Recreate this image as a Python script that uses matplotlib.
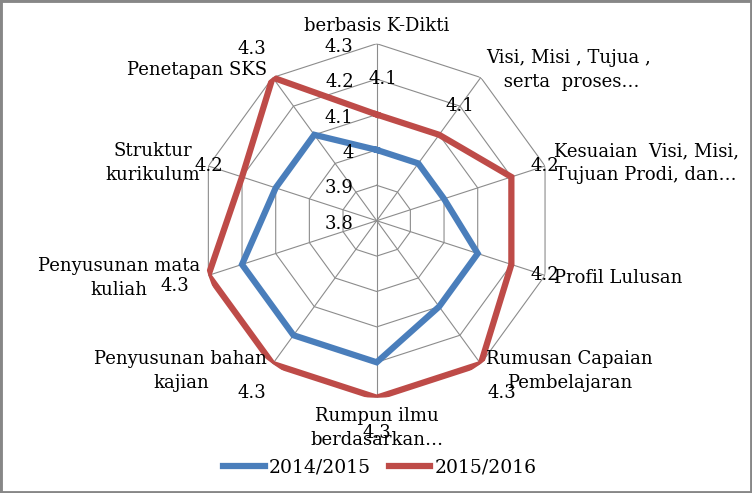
import numpy as np
import matplotlib
matplotlib.use("Agg")
import matplotlib.pyplot as plt
from matplotlib.patches import Rectangle

# categories clockwise from the top
categories = [
    "berbasis K-Dikti",
    "Visi, Misi , Tujua ,\n serta  proses…",
    "Kesuaian  Visi, Misi,\nTujuan Prodi, dan…",
    "Profil Lulusan",
    "Rumusan Capaian\nPembelajaran",
    "Rumpun ilmu\nberdasarkan…",
    "Penyusunan bahan\nkajian",
    "Penyusunan mata\nkuliah",
    "Struktur\nkurikulum",
    "Penetapan SKS",
]
series_names = ["2014/2015", "2015/2016"]
values_2014 = [4.0, 4.0, 4.0, 4.1, 4.1, 4.2, 4.2, 4.2, 4.1, 4.1]
values_2015 = [4.1, 4.1, 4.2, 4.2, 4.3, 4.3, 4.3, 4.3, 4.2, 4.3]
ring_levels = [3.8, 3.9, 4.0, 4.1, 4.2, 4.3]
ring_labels = ["3.8", "3.9", "4", "4.1", "4.2", "4.3"]

BLUE = "#4a7ebb"
RED = "#be4b48"
GRID = "#8c8c8c"
FONT = "DejaVu Serif"
FS = 13

plt.rcParams["font.family"] = [FONT, "DejaVu Sans"]

fig = plt.figure(figsize=(7.52, 4.93), dpi=100)
cx, cy, rad = 376.7 / 752, 1 - 220.7 / 493, 177.0
ax = fig.add_axes([cx - rad / 752, cy - rad / 493, 2 * rad / 752, 2 * rad / 493],
                  projection="polar")
ax.set_theta_zero_location("N")
ax.set_theta_direction(-1)
ax.set_ylim(ring_levels[0], ring_levels[-1])
ax.grid(False)
ax.set_xticks([])
ax.set_yticks([])
ax.spines["polar"].set_visible(False)
ax.patch.set_visible(False)

n = len(categories)
theta = np.linspace(0, 2 * np.pi, n, endpoint=False)
theta_c = np.append(theta, theta[0])

# decagon grid
for lv in ring_levels[1:]:
    ax.plot(theta_c, [lv] * (n + 1), color=GRID, lw=0.8, zorder=1)
for t in theta:
    ax.plot([t, t], [ring_levels[0], ring_levels[-1]], color=GRID, lw=0.8, zorder=1)

# radial tick labels
for lv, lab in zip(ring_levels, ring_labels):
    ax.annotate(lab, xy=(0, lv), xytext=(-23, -3), textcoords="offset pixels",
                ha="right", va="center", fontsize=FS, zorder=5)

# series
l1, = ax.plot(theta_c, values_2014 + values_2014[:1], color=BLUE, lw=4.5,
              solid_joinstyle="miter", zorder=3)
l2, = ax.plot(theta_c, values_2015 + values_2015[:1], color=RED, lw=4.5,
              solid_joinstyle="miter", zorder=3)

# data labels for 2015/2016, one ring further out along each spoke
for t, v in zip(theta, values_2015):
    ax.annotate(f"{v:g}", xy=(t, v + 0.1), xytext=(6 if t == 0 else 0, 0),
                textcoords="offset pixels", ha="center", va="center",
                fontsize=FS, zorder=6, annotation_clip=False)

# category labels
pad = 9
for t, lab in zip(theta, categories):
    s, c = np.sin(t), np.cos(t)
    if abs(s) < 0.2:
        ha = "center"
        va = "bottom" if c > 0 else "top"
    else:
        ha = "left" if s > 0 else "right"
        va = "center"
    ax.annotate(lab, xy=(t, ring_levels[-1]), xytext=(pad * s, pad * c),
                textcoords="offset pixels", ha=ha, va=va, multialignment="center",
                linespacing=1.45, fontsize=FS, zorder=4, annotation_clip=False)

fig.legend([l1, l2], series_names, loc="lower center", bbox_to_anchor=(0.505, 0.0),
           ncol=2, frameon=False, fontsize=13.5, handlelength=2.2, handletextpad=0.2,
           columnspacing=1.0)

fig.patches.append(Rectangle((0, 0), 1, 1, transform=fig.transFigure, fill=False,
                             ec="#878787", lw=3.5))

fig.savefig("out.png", dpi=100)
